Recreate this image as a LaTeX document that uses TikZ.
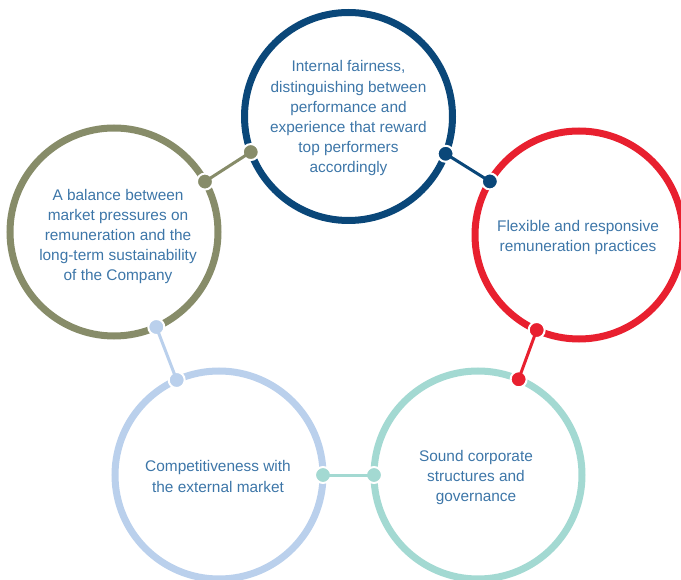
\documentclass[tikz,border=0pt]{standalone}
\usepackage{fontspec}
\setmainfont{Liberation Sans}
\definecolor{cnavy}{HTML}{0A4779}
\definecolor{cred}{HTML}{E8202F}
\definecolor{colive}{HTML}{878C69}
\definecolor{clight}{HTML}{BAD0EC}
\definecolor{cteal}{HTML}{A3D9D2}
\definecolor{ctext}{HTML}{3D76A8}
\begin{document}
\begin{tikzpicture}[x=1pt,y=-1pt,
  ring/.style={circle, draw=#1, line width=7pt, minimum size=208pt, inner sep=0pt, outer sep=0pt},
  txt/.style={align=center, text=ctext, font=\fontsize{15.4}{20.2}\selectfont},
  dotmark/.style={circle, fill=#1, draw=white, line width=2pt, minimum size=16pt, inner sep=0pt, outer sep=0pt},
  link/.style={draw=#1, line width=3pt}]
\useasboundingbox (0,0) rectangle (681,580);
\clip (0,0) rectangle (681,580);
% rings
\node[ring=cnavy] (top) at (348.5,116.5) {};
\node[ring=cred] (right) at (579,235) {};
\node[ring=colive] (left) at (114,232) {};
\node[ring=clight] (bl) at (219,475) {};
\node[ring=cteal] (br) at (478,475) {};
% texts
\node[txt] (ttop) at (348.5,118.5) {Internal fairness,\\distinguishing between\\performance and\\experience that reward\\top performers\\accordingly};
\node[txt] (tright) at (578,237.5) {Flexible and responsive\\remuneration practices};
\node[txt] (tleft) at (118,236.5) {A balance between\\market pressures on\\remuneration and the\\long-term sustainability\\of the Company};
\node[txt] (tbl) at (218,476.5) {Competitiveness with\\the external market};
\node[txt] (tbr) at (476,477.5) {Sound corporate\\structures and\\governance};
% dots
\node[dotmark=colive] (o1) at (left.29) {};
\node[dotmark=colive] (o2) at (top.200) {};
\node[dotmark=cnavy] (n1) at (top.339) {};
\node[dotmark=cnavy] (n2) at (right.149) {};
\node[dotmark=cred] (r1) at (right.246) {};
\node[dotmark=cred] (r2) at (br.67) {};
\node[dotmark=cteal] (t1) at (br.180) {};
\node[dotmark=cteal] (t2) at (bl.0) {};
\node[dotmark=clight] (l1) at (bl.114) {};
\node[dotmark=clight] (l2) at (left.294) {};
% links
\draw[link=colive] (o1.center) -- (o2.center);
\draw[link=cnavy] (n1.center) -- (n2.center);
\draw[link=cred] (r1.center) -- (r2.center);
\draw[link=cteal] (t1.center) -- (t2.center);
\draw[link=clight] (l1.center) -- (l2.center);
\end{tikzpicture}
\end{document}
